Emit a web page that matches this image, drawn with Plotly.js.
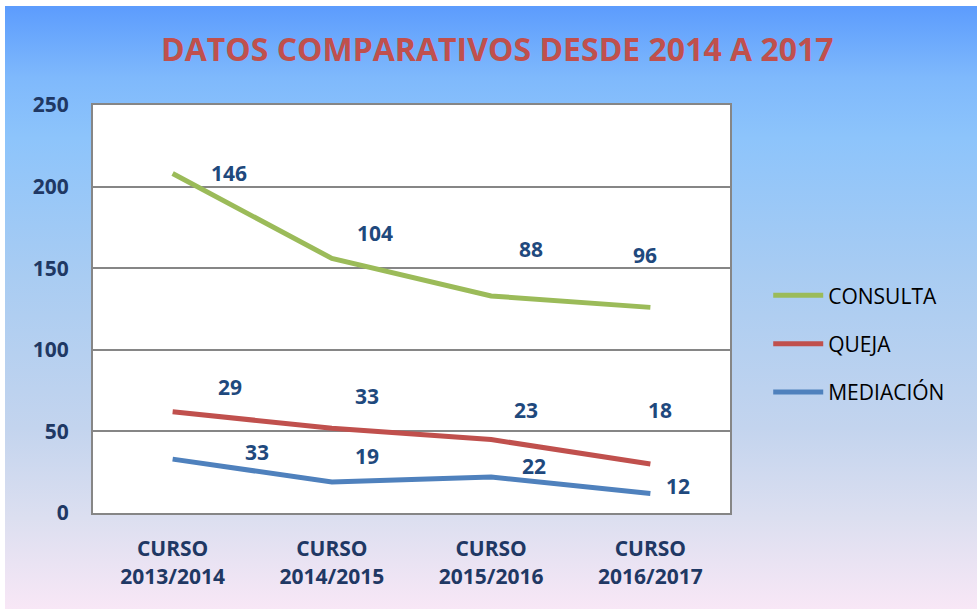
<!DOCTYPE html>
<html>
<head>
<meta charset="utf-8">
<script src="https://cdn.plot.ly/plotly-3.0.1.min.js"></script>
<style>
  html, body { margin: 0; padding: 0; background: #ffffff; }
  #wrap { position: absolute; left: 5px; top: 6px; width: 972px; height: 603px;
    background: linear-gradient(to bottom, #5c9cfd 0%, #7fb9fc 12%, #8dc4fb 22%, #a9ccf2 45%, #c3d4ee 70%, #dcdff0 85%, #f8e7f6 100%); }
  #chart { position: absolute; left: 0; top: 0; width: 977px; height: 609px; }
</style>
</head>
<body>
<div id="wrap"></div>
<div id="chart"></div>
<script>
const categories = ['CURSO<br>2013/2014', 'CURSO<br>2014/2015', 'CURSO<br>2015/2016', 'CURSO<br>2016/2017'];
const consulta = [146, 104, 88, 96];
const queja = [29, 33, 23, 18];
const mediacion = [33, 19, 22, 12];

const seriesNames = ['MEDIACIÓN', 'QUEJA', 'CONSULTA'];
const seriesValues = [mediacion, queja, consulta];
const seriesColors = ['#4f81bd', '#c0504d', '#9bbb59'];

// label pixel offsets (style only) per series [mediacion, queja, consulta]
const labelShift = [
  [[84, 7], [35, 26], [43, 11], [28, 7]],
  [[57, 25], [35, 32], [35, 30], [10, 54]],
  [[56, 1], [43, 25], [40, 47], [-5, 52]]
];

const xIdx = categories.map((c, i) => i);
const traces = seriesValues.map((vals, s) => ({
  type: 'scatter', mode: 'lines', name: seriesNames[s], legendgroup: 'g' + s,
  legendrank: 3 - s,
  x: xIdx, y: vals, stackgroup: 'one', fill: 'none',
  line: { color: seriesColors[s], width: 5 },
  hoverinfo: 'skip'
}));

const annotations = [];
const cum = xIdx.map(() => 0);
seriesValues.forEach((vals, s) => {
  vals.forEach((v, i) => {
    cum[i] += v;
    annotations.push({
      x: i, y: cum[i], xref: 'x', yref: 'y', text: String(v), showarrow: false,
      xshift: labelShift[s][i][0], yshift: labelShift[s][i][1],
      font: { family: 'Open Sans, sans-serif', size: 21, color: '#1f497d', weight: 'bold' }
    });
  });
});

const axisFont = { family: 'Open Sans, sans-serif', size: 21, color: '#1f3864', weight: 'bold' };

const layout = {
  width: 977, height: 609,
  paper_bgcolor: 'rgba(0,0,0,0)', plot_bgcolor: '#ffffff',
  margin: { l: 93, r: 247, t: 105, b: 96 },
  title: {
    text: 'DATOS COMPARATIVOS DESDE 2014 A 2017',
    x: 0.509, xanchor: 'center', y: 0.918, yanchor: 'middle',
    font: { family: 'Open Sans, sans-serif', size: 32, color: '#c0504d', weight: 'bold' }
  },
  xaxis: {
    range: [-0.5, 3.5], tickvals: xIdx, ticktext: categories,
    showgrid: false, zeroline: false, showline: true, mirror: true,
    linecolor: '#868686', linewidth: 2, ticks: '', tickfont: axisFont,
    ticklabelstandoff: 16
  },
  yaxis: {
    range: [0, 250], dtick: 50, showgrid: true, gridcolor: '#868686', gridwidth: 2,
    zeroline: false, showline: true, mirror: true, linecolor: '#868686', linewidth: 2,
    ticks: '', tickfont: axisFont, ticklabelstandoff: 18
  },
  legend: {
    x: 1.06, xref: 'paper', xanchor: 'left', y: 0.415, yanchor: 'middle',
    traceorder: 'grouped', bgcolor: 'rgba(0,0,0,0)',
    font: { family: 'Open Sans, sans-serif', size: 21, color: '#000000' },
    tracegroupgap: 18, itemwidth: 50
  },
  annotations: annotations,
  showlegend: true
};

Plotly.newPlot('chart', traces, layout, { displayModeBar: false, staticPlot: true });
</script>
</body>
</html>
